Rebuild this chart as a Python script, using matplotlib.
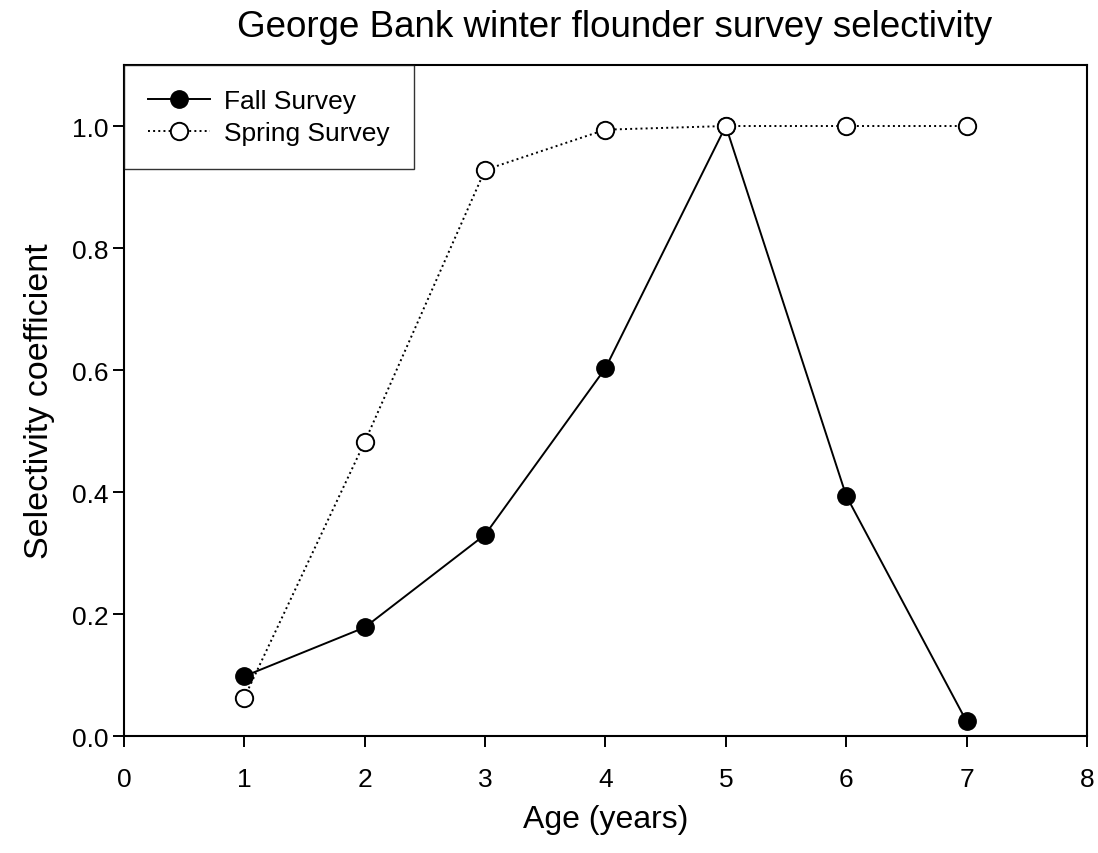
import matplotlib
matplotlib.use("Agg")
import matplotlib.pyplot as plt

plt.rcParams['font.family'] = ['Liberation Sans', 'DejaVu Sans']

ages = [1, 2, 3, 4, 5, 6, 7]
fall = [0.098, 0.178, 0.330, 0.603, 1.000, 0.394, 0.024]
spring = [0.063, 0.482, 0.928, 0.994, 1.000, 1.000, 1.000]

fig = plt.figure(figsize=(10.98, 8.54), dpi=100)
ax = fig.add_axes([0.1129, 0.137, 0.877, 0.7857])

ax.plot(ages, fall, '-', color='black', lw=1.4, marker='o', ms=12.5,
        mfc='black', mec='black', label='Fall Survey', zorder=3)
ax.plot(ages, spring, ':', color='black', lw=1.4, marker='o', ms=12.5,
        mfc='white', mec='black', mew=1.4, label='Spring Survey', zorder=4)

ax.set_xlim(0, 8)
ax.set_ylim(0, 1.1)
ax.set_xticks(range(0, 9))
ax.set_yticks([0.0, 0.2, 0.4, 0.6, 0.8, 1.0])
ax.set_yticklabels(['0.0', '0.2', '0.4', '0.6', '0.8', '1.0'])
ax.tick_params(direction='out', length=8, width=1.4, labelsize=19,
               top=False, right=False)
ax.tick_params(axis='x', pad=14)
ax.tick_params(axis='y', pad=3)
for s in ax.spines.values():
    s.set_linewidth(1.5)

ax.set_xlabel('Age (years)', fontsize=23, labelpad=10)
ax.set_ylabel('Selectivity coefficient', fontsize=24.5, labelpad=12)
ax.set_title('George Bank winter flounder survey selectivity', fontsize=26.5,
             pad=21, x=0.509)

leg = ax.legend(loc='upper left', fontsize=19, frameon=True, fancybox=False,
                borderaxespad=0, handlelength=2.35, borderpad=0.9,
                labelspacing=0.32, handletextpad=0.55)
leg.get_frame().set_edgecolor('black')
leg.get_frame().set_linewidth(1.0)

fig.savefig('out.png', dpi=100)
